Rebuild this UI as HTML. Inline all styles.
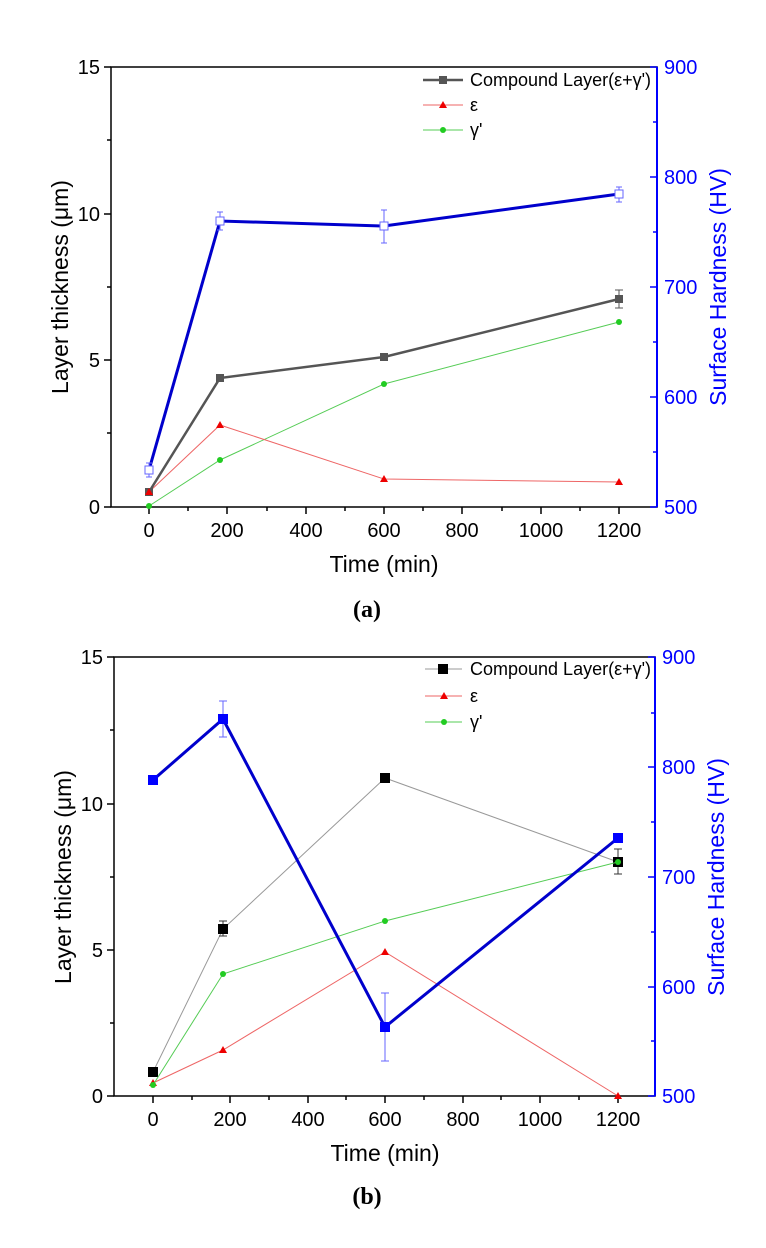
<!DOCTYPE html>
<html><head><meta charset="utf-8"><style>body{margin:0;background:#fff}svg{display:block}text{font-family:"Liberation Sans",sans-serif}</style></head><body>
<svg width="766" height="1248" viewBox="0 0 766 1248" xmlns="http://www.w3.org/2000/svg">
<!-- ===== Chart A ===== -->
<g stroke-width="1.5">
<rect x="111" y="67" width="546" height="440" fill="none" stroke="#000"/>
<line x1="657" y1="67" x2="657" y2="507" stroke="#00f" stroke-width="2"/>
</g>
<g stroke="#000" stroke-width="1.5">
<line x1="104" y1="67" x2="111" y2="67"/><line x1="104" y1="214" x2="111" y2="214"/><line x1="104" y1="360" x2="111" y2="360"/><line x1="104" y1="507" x2="111" y2="507"/>
<line x1="107" y1="140" x2="111" y2="140"/><line x1="107" y1="287" x2="111" y2="287"/><line x1="107" y1="433" x2="111" y2="433"/>
<line x1="149" y1="507" x2="149" y2="514"/><line x1="227" y1="507" x2="227" y2="514"/><line x1="306" y1="507" x2="306" y2="514"/><line x1="384" y1="507" x2="384" y2="514"/><line x1="462" y1="507" x2="462" y2="514"/><line x1="541" y1="507" x2="541" y2="514"/><line x1="619" y1="507" x2="619" y2="514"/>
<line x1="188" y1="507" x2="188" y2="511"/><line x1="267" y1="507" x2="267" y2="511"/><line x1="345" y1="507" x2="345" y2="511"/><line x1="423" y1="507" x2="423" y2="511"/><line x1="502" y1="507" x2="502" y2="511"/><line x1="580" y1="507" x2="580" y2="511"/>
</g>
<g stroke="#00f" stroke-width="1.5">
<line x1="650" y1="67" x2="657" y2="67"/><line x1="650" y1="177" x2="657" y2="177"/><line x1="650" y1="287" x2="657" y2="287"/><line x1="650" y1="397" x2="657" y2="397"/><line x1="650" y1="507" x2="657" y2="507"/>
<line x1="653" y1="122" x2="657" y2="122"/><line x1="653" y1="232" x2="657" y2="232"/><line x1="653" y1="342" x2="657" y2="342"/><line x1="653" y1="452" x2="657" y2="452"/>
</g>
<g font-size="20" text-anchor="end">
<text x="100" y="74">15</text><text x="100" y="221">10</text><text x="100" y="367">5</text><text x="100" y="514">0</text>
</g>
<g font-size="20" text-anchor="middle">
<text x="149" y="537">0</text><text x="227" y="537">200</text><text x="306" y="537">400</text><text x="384" y="537">600</text><text x="462" y="537">800</text><text x="541" y="537">1000</text><text x="619" y="537">1200</text>
</g>
<g font-size="20" fill="#00f"><text x="664" y="74">900</text><text x="664" y="184">800</text><text x="664" y="294">700</text><text x="664" y="404">600</text><text x="664" y="514">500</text></g>
<text x="384" y="572" font-size="23" text-anchor="middle">Time (min)</text>
<text transform="translate(68,287) rotate(-90)" font-size="23" text-anchor="middle">Layer thickness (μm)</text>
<text transform="translate(726,287) rotate(-90)" font-size="23" text-anchor="middle" fill="#00f">Surface Hardness (HV)</text>
<text x="367" y="617" font-size="24" font-weight="bold" text-anchor="middle" style="font-family:'Liberation Serif',serif">(a)</text>
<!-- series A -->
<polyline points="149,506 220,460 384,384 619,322" fill="none" stroke="#5c5" stroke-width="1"/>
<g fill="#2c2"><circle cx="149" cy="506" r="3"/><circle cx="220" cy="460" r="3"/><circle cx="384" cy="384" r="3"/><circle cx="619" cy="322" r="3"/></g>
<polyline points="149,492 220,425 384,479 619,482" fill="none" stroke="#e66" stroke-width="1"/>
<polyline points="149,492 220,378 384,357 619,299" fill="none" stroke="#555" stroke-width="2.5"/>
<g fill="#555"><rect x="145" y="488" width="8" height="8"/><rect x="216" y="374" width="8" height="8"/><rect x="380" y="353" width="8" height="8"/><rect x="615" y="295" width="8" height="8"/></g>
<g stroke="#555" stroke-width="1"><line x1="619" y1="290" x2="619" y2="308"/><line x1="615" y1="290" x2="623" y2="290"/><line x1="615" y1="308" x2="623" y2="308"/></g>
<g fill="#e00"><path d="M149,488 l4,7 h-8z"/><path d="M220,421 l4,7 h-8z"/><path d="M384,475 l4,7 h-8z"/><path d="M619,478 l4,7 h-8z"/></g>
<polyline points="149,470 220,221 384,226 619,194" fill="none" stroke="#00c" stroke-width="3"/>
<g stroke="#66f" stroke-width="1" fill="#fff">
<line x1="149" y1="463" x2="149" y2="477"/><line x1="146" y1="463" x2="152" y2="463"/><line x1="146" y1="477" x2="152" y2="477"/>
<line x1="220" y1="212" x2="220" y2="230"/><line x1="217" y1="212" x2="223" y2="212"/><line x1="217" y1="230" x2="223" y2="230"/>
<line x1="384" y1="210" x2="384" y2="243"/><line x1="381" y1="210" x2="387" y2="210"/><line x1="381" y1="243" x2="387" y2="243"/>
<line x1="619" y1="187" x2="619" y2="202"/><line x1="616" y1="187" x2="622" y2="187"/><line x1="616" y1="202" x2="622" y2="202"/>
<rect x="145" y="466" width="8" height="8"/><rect x="216" y="217" width="8" height="8"/><rect x="380" y="222" width="8" height="8"/><rect x="615" y="190" width="8" height="8"/>
</g>
<!-- legend A -->
<line x1="423" y1="80" x2="463" y2="80" stroke="#555" stroke-width="2.5"/><rect x="439" y="76" width="8" height="8" fill="#555"/>
<line x1="423" y1="105" x2="463" y2="105" stroke="#e66"/><path d="M443,101 l4,7 h-8z" fill="#e00"/>
<line x1="423" y1="130" x2="463" y2="130" stroke="#5c5"/><circle cx="443" cy="130" r="3" fill="#2c2"/>
<g font-size="18"><text x="470" y="86">Compound Layer(ε+γ')</text><text x="470" y="111">ε</text><text x="470" y="136">γ'</text></g>

<!-- ===== Chart B ===== -->
<rect x="114" y="657" width="541" height="439" fill="none" stroke="#000" stroke-width="1.5"/>
<line x1="655" y1="657" x2="655" y2="1096" stroke="#00f" stroke-width="2"/>
<g stroke="#000" stroke-width="1.5">
<line x1="107" y1="657" x2="114" y2="657"/><line x1="107" y1="804" x2="114" y2="804"/><line x1="107" y1="950" x2="114" y2="950"/><line x1="107" y1="1096" x2="114" y2="1096"/>
<line x1="110" y1="730" x2="114" y2="730"/><line x1="110" y1="877" x2="114" y2="877"/><line x1="110" y1="1023" x2="114" y2="1023"/>
<line x1="153" y1="1096" x2="153" y2="1103"/><line x1="230" y1="1096" x2="230" y2="1103"/><line x1="308" y1="1096" x2="308" y2="1103"/><line x1="385" y1="1096" x2="385" y2="1103"/><line x1="463" y1="1096" x2="463" y2="1103"/><line x1="540" y1="1096" x2="540" y2="1103"/><line x1="618" y1="1096" x2="618" y2="1103"/>
<line x1="192" y1="1096" x2="192" y2="1100"/><line x1="269" y1="1096" x2="269" y2="1100"/><line x1="346" y1="1096" x2="346" y2="1100"/><line x1="424" y1="1096" x2="424" y2="1100"/><line x1="501" y1="1096" x2="501" y2="1100"/><line x1="579" y1="1096" x2="579" y2="1100"/>
</g>
<g stroke="#00f" stroke-width="1.5">
<line x1="648" y1="657" x2="655" y2="657"/><line x1="648" y1="767" x2="655" y2="767"/><line x1="648" y1="877" x2="655" y2="877"/><line x1="648" y1="987" x2="655" y2="987"/><line x1="648" y1="1096" x2="655" y2="1096"/>
<line x1="651" y1="713" x2="655" y2="713"/><line x1="651" y1="822" x2="655" y2="822"/><line x1="651" y1="932" x2="655" y2="932"/><line x1="651" y1="1041" x2="655" y2="1041"/>
</g>
<g font-size="20" text-anchor="end">
<text x="103" y="664">15</text><text x="103" y="811">10</text><text x="103" y="957">5</text><text x="103" y="1103">0</text>
</g>
<g font-size="20" text-anchor="middle">
<text x="153" y="1126">0</text><text x="230" y="1126">200</text><text x="308" y="1126">400</text><text x="385" y="1126">600</text><text x="463" y="1126">800</text><text x="540" y="1126">1000</text><text x="618" y="1126">1200</text>
</g>
<g font-size="20" fill="#00f"><text x="662" y="664">900</text><text x="662" y="774">800</text><text x="662" y="884">700</text><text x="662" y="994">600</text><text x="662" y="1103">500</text></g>
<text x="385" y="1161" font-size="23" text-anchor="middle">Time (min)</text>
<text transform="translate(71,877) rotate(-90)" font-size="23" text-anchor="middle">Layer thickness (μm)</text>
<text transform="translate(724,877) rotate(-90)" font-size="23" text-anchor="middle" fill="#00f">Surface Hardness (HV)</text>
<text x="367" y="1204" font-size="24" font-weight="bold" text-anchor="middle" style="font-family:'Liberation Serif',serif">(b)</text>
<!-- series B -->
<polyline points="153,1072 223,929 385,778 618,862" fill="none" stroke="#999" stroke-width="1"/>
<g stroke="#333" stroke-width="1"><line x1="223" y1="921" x2="223" y2="936"/><line x1="219" y1="921" x2="227" y2="921"/><line x1="219" y1="936" x2="227" y2="936"/><line x1="618" y1="849" x2="618" y2="874"/><line x1="614" y1="849" x2="622" y2="849"/><line x1="614" y1="874" x2="622" y2="874"/></g>
<g fill="#000"><rect x="148" y="1067" width="10" height="10"/><rect x="218" y="924" width="10" height="10"/><rect x="380" y="773" width="10" height="10"/><rect x="613" y="857" width="10" height="10"/></g>
<polyline points="153,1083 223,1050 385,952 618,1096" fill="none" stroke="#e66" stroke-width="1"/>
<g fill="#e00"><path d="M153,1079 l4,7 h-8z"/><path d="M223,1046 l4,7 h-8z"/><path d="M385,948 l4,7 h-8z"/><path d="M618,1092 l4,7 h-8z"/></g>
<polyline points="153,1085 223,974 385,921 618,862" fill="none" stroke="#5c5" stroke-width="1"/>
<g fill="#2c2"><circle cx="153" cy="1085" r="3"/><circle cx="223" cy="974" r="3"/><circle cx="385" cy="921" r="3"/><circle cx="618" cy="862" r="3"/></g>
<polyline points="153,780 223,719 385,1027 618,838" fill="none" stroke="#00c" stroke-width="3"/>
<g stroke="#66f" stroke-width="1"><line x1="223" y1="701" x2="223" y2="737"/><line x1="219" y1="701" x2="227" y2="701"/><line x1="219" y1="737" x2="227" y2="737"/><line x1="385" y1="993" x2="385" y2="1061"/><line x1="381" y1="993" x2="389" y2="993"/><line x1="381" y1="1061" x2="389" y2="1061"/></g>
<g fill="#00f"><rect x="148" y="775" width="10" height="10"/><rect x="218" y="714" width="10" height="10"/><rect x="380" y="1022" width="10" height="10"/><rect x="613" y="833" width="10" height="10"/></g>
<!-- legend B -->
<line x1="425" y1="669" x2="462" y2="669" stroke="#999"/><rect x="438" y="664" width="10" height="10" fill="#000"/>
<line x1="425" y1="696" x2="462" y2="696" stroke="#e66"/><path d="M444,692 l4,7 h-8z" fill="#e00"/>
<line x1="425" y1="722" x2="462" y2="722" stroke="#5c5"/><circle cx="444" cy="722" r="3" fill="#2c2"/>
<g font-size="18"><text x="470" y="675">Compound Layer(ε+γ')</text><text x="470" y="702">ε</text><text x="470" y="728">γ'</text></g>
</svg>
</body></html>
